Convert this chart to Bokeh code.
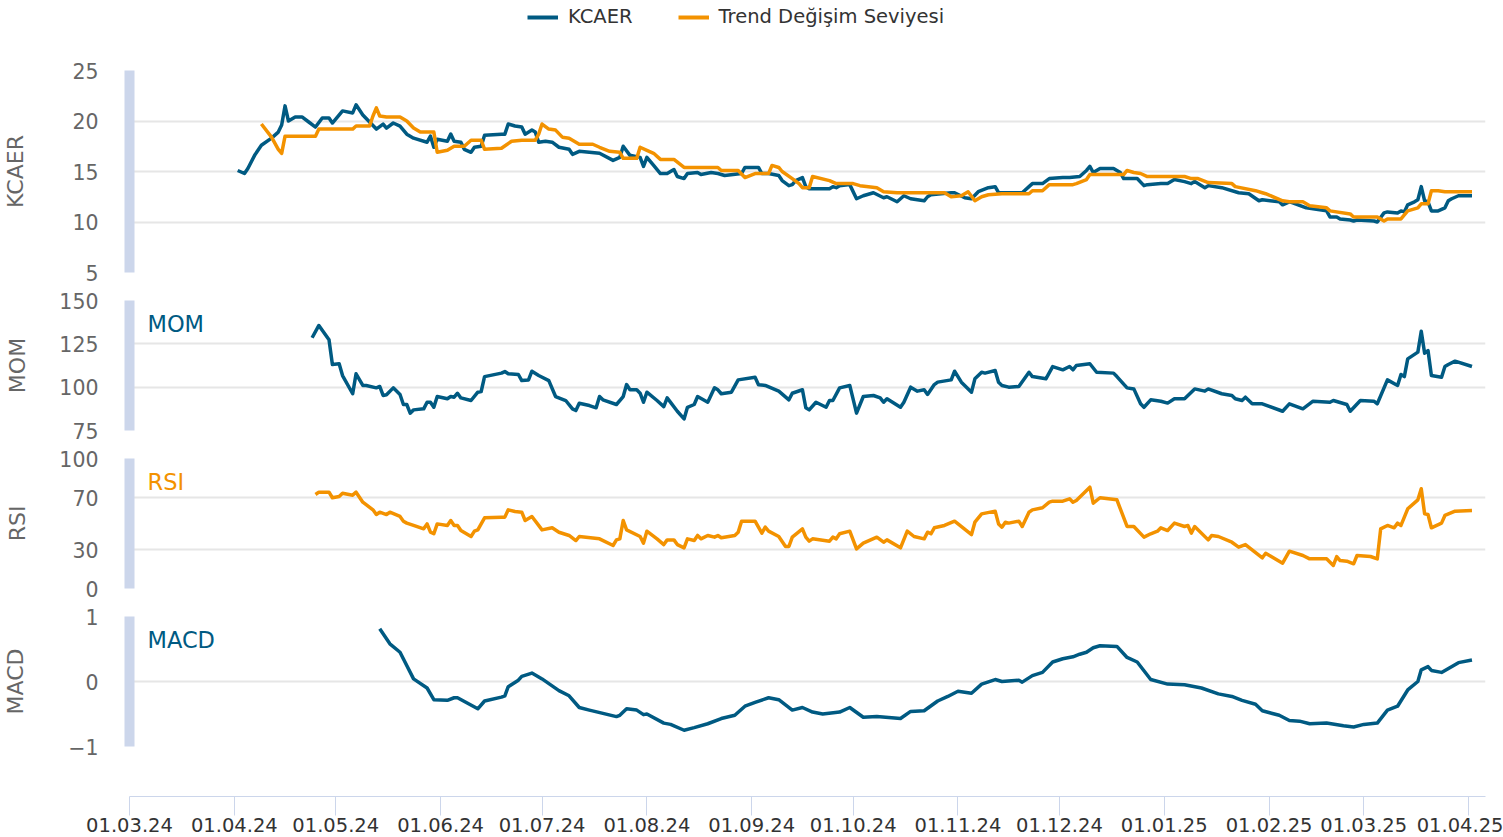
import pandas as pd
from bokeh.plotting import figure
from bokeh.layouts import column
from bokeh.models import (Range1d, FixedTicker, DatetimeTickFormatter, Legend,
                          LegendItem, Label)
from bokeh.embed import file_html
from bokeh.resources import INLINE

# ---------------- data ----------------
kcaer_dates = [
    "2024-04-02", "2024-04-04", "2024-04-05", "2024-04-07", "2024-04-09", "2024-04-12", "2024-04-14",
    "2024-04-15", "2024-04-16", "2024-04-17", "2024-04-19", "2024-04-21", "2024-04-23", "2024-04-25",
    "2024-04-27", "2024-04-29", "2024-04-30", "2024-05-03", "2024-05-06", "2024-05-07", "2024-05-09",
    "2024-05-11", "2024-05-13", "2024-05-15", "2024-05-16", "2024-05-18", "2024-05-20", "2024-05-22",
    "2024-05-24", "2024-05-28", "2024-05-29", "2024-05-30", "2024-05-31", "2024-06-03", "2024-06-04",
    "2024-06-05", "2024-06-07", "2024-06-08", "2024-06-10", "2024-06-11", "2024-06-13", "2024-06-14",
    "2024-06-19", "2024-06-20", "2024-06-21", "2024-06-23", "2024-06-25", "2024-06-26", "2024-06-28",
    "2024-06-29", "2024-06-30", "2024-07-02", "2024-07-04", "2024-07-06", "2024-07-09", "2024-07-10",
    "2024-07-12", "2024-07-18", "2024-07-22", "2024-07-24", "2024-07-25", "2024-07-27", "2024-07-30",
    "2024-07-31", "2024-08-01", "2024-08-03", "2024-08-05", "2024-08-07", "2024-08-09", "2024-08-10",
    "2024-08-12", "2024-08-13", "2024-08-16", "2024-08-17", "2024-08-20", "2024-08-22", "2024-08-24",
    "2024-08-29", "2024-08-30", "2024-09-03", "2024-09-04", "2024-09-06", "2024-09-09", "2024-09-10",
    "2024-09-12", "2024-09-13", "2024-09-14", "2024-09-16", "2024-09-17", "2024-09-18", "2024-09-21",
    "2024-09-24", "2024-09-25", "2024-09-26", "2024-09-27", "2024-09-30", "2024-10-02", "2024-10-04",
    "2024-10-07", "2024-10-10", "2024-10-11", "2024-10-14", "2024-10-16", "2024-10-18", "2024-10-22",
    "2024-10-23", "2024-10-24", "2024-10-30", "2024-10-31", "2024-11-03", "2024-11-05", "2024-11-07",
    "2024-11-10", "2024-11-12", "2024-11-13", "2024-11-20", "2024-11-22", "2024-11-23", "2024-11-26",
    "2024-11-28", "2024-12-02", "2024-12-04", "2024-12-07", "2024-12-09", "2024-12-10", "2024-12-11",
    "2024-12-13", "2024-12-17", "2024-12-19", "2024-12-20", "2024-12-24", "2024-12-26", "2024-12-27",
    "2024-12-31", "2025-01-02", "2025-01-04", "2025-01-07", "2025-01-09", "2025-01-10", "2025-01-13",
    "2025-01-14", "2025-01-18", "2025-01-23", "2025-01-26", "2025-01-29", "2025-01-30", "2025-02-04",
    "2025-02-05", "2025-02-07", "2025-02-08", "2025-02-12", "2025-02-18", "2025-02-19", "2025-02-21",
    "2025-02-22", "2025-02-25", "2025-02-26", "2025-02-27", "2025-03-04", "2025-03-05", "2025-03-07",
    "2025-03-08", "2025-03-11", "2025-03-12", "2025-03-13", "2025-03-14", "2025-03-16", "2025-03-17",
    "2025-03-18", "2025-03-19", "2025-03-20", "2025-03-21", "2025-03-23", "2025-03-25", "2025-03-26",
    "2025-03-27", "2025-03-29", "2025-04-02",
]
kcaer_values = [
    15.1, 14.8, 15.3, 16.6, 17.6, 18.3, 18.9,
    19.6, 21.5, 20.0, 20.4, 20.4, 19.9, 19.4,
    20.3, 20.3, 19.8, 21.0, 20.8, 21.6, 20.6,
    19.9, 19.2, 19.7, 19.3, 19.8, 19.5, 18.7,
    18.3, 17.9, 18.5, 17.4, 18.2, 18.0, 18.7,
    18.0, 17.9, 17.2, 16.9, 17.4, 17.5, 18.6,
    18.7, 18.7, 19.7, 19.5, 19.4, 18.7, 19.1,
    18.9, 17.9, 18.0, 17.9, 17.4, 17.2, 16.7,
    17.0, 16.8, 16.1, 16.4, 17.5, 16.6, 16.4,
    15.5, 16.4, 15.6, 14.8, 14.8, 15.2, 14.5,
    14.3, 14.8, 14.9, 14.7, 14.9, 14.8, 14.6,
    14.8, 15.4, 15.4, 14.8, 14.8, 14.6, 14.1,
    13.6, 13.7, 14.1, 14.4, 13.5, 13.3, 13.3,
    13.3, 13.5, 13.4, 13.6, 13.7, 12.3, 12.6,
    12.9, 12.4, 12.5, 12.0, 12.6, 12.3, 12.1,
    12.5, 12.7, 12.9, 12.9, 12.4, 12.3, 13.0,
    13.4, 13.5, 12.9, 12.9, 13.5, 13.8, 13.8,
    14.3, 14.4, 14.4, 14.5, 15.1, 15.5, 14.9,
    15.3, 15.3, 14.9, 14.3, 14.3, 13.6, 13.7,
    13.8, 13.8, 14.2, 14.0, 13.8, 14.0, 13.4,
    13.6, 13.4, 12.9, 12.8, 12.1, 12.2, 12.0,
    11.7, 12.0, 11.9, 11.4, 11.1, 10.5, 10.5,
    10.3, 10.2, 10.1, 10.2, 10.1, 10.0, 10.9,
    11.0, 10.9, 11.1, 11.0, 11.7, 12.0, 12.2,
    13.5, 12.1, 12.0, 11.1, 11.1, 11.4, 12.1,
    12.3, 12.6, 12.6,
]

trend_dates = [
    "2024-04-09", "2024-04-12", "2024-04-14", "2024-04-15", "2024-04-16", "2024-04-25", "2024-04-26",
    "2024-05-06", "2024-05-07", "2024-05-11", "2024-05-12", "2024-05-13", "2024-05-14", "2024-05-16",
    "2024-05-20", "2024-05-22", "2024-05-24", "2024-05-26", "2024-05-30", "2024-05-31", "2024-06-03",
    "2024-06-05", "2024-06-08", "2024-06-10", "2024-06-13", "2024-06-14", "2024-06-19", "2024-06-22",
    "2024-06-25", "2024-06-29", "2024-06-30", "2024-07-01", "2024-07-03", "2024-07-05", "2024-07-07",
    "2024-07-09", "2024-07-12", "2024-07-16", "2024-07-18", "2024-07-21", "2024-07-24", "2024-07-25",
    "2024-07-29", "2024-07-30", "2024-08-01", "2024-08-03", "2024-08-05", "2024-08-09", "2024-08-12",
    "2024-08-22", "2024-08-23", "2024-08-28", "2024-08-30", "2024-09-02", "2024-09-06", "2024-09-07",
    "2024-09-09", "2024-09-10", "2024-09-13", "2024-09-15", "2024-09-16", "2024-09-18", "2024-09-19",
    "2024-09-24", "2024-09-26", "2024-10-01", "2024-10-03", "2024-10-08", "2024-10-10", "2024-10-14",
    "2024-10-28", "2024-10-30", "2024-11-02", "2024-11-04", "2024-11-06", "2024-11-08", "2024-11-10",
    "2024-11-14", "2024-11-22", "2024-11-23", "2024-11-26", "2024-11-28", "2024-12-05", "2024-12-06",
    "2024-12-09", "2024-12-10", "2024-12-20", "2024-12-21", "2024-12-23", "2024-12-25", "2024-12-27",
    "2025-01-07", "2025-01-09", "2025-01-11", "2025-01-14", "2025-01-21", "2025-01-22", "2025-01-28",
    "2025-01-30", "2025-01-31", "2025-02-05", "2025-02-07", "2025-02-11", "2025-02-13", "2025-02-18",
    "2025-02-19", "2025-02-25", "2025-02-26", "2025-03-05", "2025-03-07", "2025-03-08", "2025-03-12",
    "2025-03-14", "2025-03-17", "2025-03-18", "2025-03-20", "2025-03-21", "2025-03-23", "2025-03-25",
    "2025-04-02",
]
trend_values = [
    19.7, 18.4, 17.2, 16.8, 18.5, 18.5, 19.2,
    19.2, 19.5, 19.5, 20.5, 21.3, 20.5, 20.4,
    20.4, 20.0, 19.3, 18.9, 18.9, 16.9, 17.1,
    17.5, 17.5, 18.1, 18.1, 17.2, 17.3, 18.0,
    18.1, 18.1, 18.7, 19.7, 19.2, 19.1, 18.4,
    18.3, 17.7, 17.7, 17.4, 17.0, 16.9, 16.3,
    16.3, 17.4, 17.1, 16.8, 16.2, 16.2, 15.4,
    15.4, 15.1, 15.1, 14.4, 14.8, 14.8, 15.6,
    15.4, 15.0, 14.3, 13.8, 13.4, 13.4, 14.5,
    14.1, 13.8, 13.8, 13.6, 13.4, 13.0, 12.9,
    12.9, 12.5, 12.6, 13.0, 12.1, 12.5, 12.7,
    12.8, 12.8, 13.1, 13.1, 13.7, 13.7, 13.8,
    14.2, 14.7, 14.7, 15.1, 14.9, 14.8, 14.5,
    14.5, 14.3, 14.3, 13.9, 13.8, 13.5, 13.1,
    12.9, 12.8, 12.1, 12.0, 12.0, 11.6, 11.4,
    11.1, 10.8, 10.5, 10.5, 10.1, 10.3, 10.3,
    11.1, 11.4, 11.8, 11.8, 13.1, 13.1, 13.0,
    13.0,
]

mom_dates = [
    "2024-04-24", "2024-04-26", "2024-04-29", "2024-04-30", "2024-05-02", "2024-05-03", "2024-05-06",
    "2024-05-07", "2024-05-09", "2024-05-10", "2024-05-13", "2024-05-14", "2024-05-15", "2024-05-16",
    "2024-05-18", "2024-05-20", "2024-05-21", "2024-05-22", "2024-05-23", "2024-05-24", "2024-05-27",
    "2024-05-28", "2024-05-29", "2024-05-30", "2024-05-31", "2024-06-03", "2024-06-04", "2024-06-05",
    "2024-06-06", "2024-06-07", "2024-06-10", "2024-06-12", "2024-06-13", "2024-06-14", "2024-06-19",
    "2024-06-20", "2024-06-21", "2024-06-24", "2024-06-25", "2024-06-27", "2024-06-28", "2024-06-30",
    "2024-07-03", "2024-07-05", "2024-07-08", "2024-07-10", "2024-07-11", "2024-07-12", "2024-07-15",
    "2024-07-17", "2024-07-18", "2024-07-19", "2024-07-23", "2024-07-25", "2024-07-26", "2024-07-27",
    "2024-07-29", "2024-07-30", "2024-07-31", "2024-08-01", "2024-08-04", "2024-08-06", "2024-08-07",
    "2024-08-10", "2024-08-12", "2024-08-13", "2024-08-15", "2024-08-16", "2024-08-19", "2024-08-21",
    "2024-08-22", "2024-08-23", "2024-08-26", "2024-08-28", "2024-09-02", "2024-09-03", "2024-09-05",
    "2024-09-09", "2024-09-12", "2024-09-13", "2024-09-16", "2024-09-17", "2024-09-18", "2024-09-20",
    "2024-09-23", "2024-09-24", "2024-09-25", "2024-09-27", "2024-09-30", "2024-10-02", "2024-10-04",
    "2024-10-07", "2024-10-09", "2024-10-10", "2024-10-11", "2024-10-15", "2024-10-16", "2024-10-18",
    "2024-10-20", "2024-10-22", "2024-10-23", "2024-10-25", "2024-10-26", "2024-10-30", "2024-10-31",
    "2024-11-02", "2024-11-05", "2024-11-06", "2024-11-08", "2024-11-09", "2024-11-12", "2024-11-13",
    "2024-11-14", "2024-11-16", "2024-11-19", "2024-11-22", "2024-11-23", "2024-11-27", "2024-11-29",
    "2024-12-02", "2024-12-04", "2024-12-05", "2024-12-06", "2024-12-10", "2024-12-12", "2024-12-17",
    "2024-12-18", "2024-12-21", "2024-12-23", "2024-12-25", "2024-12-26", "2024-12-28", "2024-12-31",
    "2025-01-02", "2025-01-04", "2025-01-07", "2025-01-10", "2025-01-13", "2025-01-14", "2025-01-18",
    "2025-01-21", "2025-01-22", "2025-01-24", "2025-01-25", "2025-01-27", "2025-01-30", "2025-02-05",
    "2025-02-07", "2025-02-11", "2025-02-14", "2025-02-19", "2025-02-20", "2025-02-24", "2025-02-25",
    "2025-02-28", "2025-03-04", "2025-03-05", "2025-03-08", "2025-03-11", "2025-03-12", "2025-03-13",
    "2025-03-14", "2025-03-17", "2025-03-18", "2025-03-19", "2025-03-20", "2025-03-21", "2025-03-24",
    "2025-03-25", "2025-03-26", "2025-03-28", "2025-04-02",
]
mom_values = [
    128.5, 135.6, 127.3, 113.1, 113.5, 106.7, 96.2,
    107.7, 101.0, 101.0, 99.6, 100.4, 95.2, 95.6,
    99.6, 95.8, 90.0, 90.0, 85.0, 86.9, 87.5,
    91.3, 91.3, 88.4, 94.6, 93.3, 94.6, 94.2,
    96.5, 93.8, 92.3, 97.1, 97.5, 106.1, 108.1,
    109.0, 107.7, 107.3, 103.8, 104.2, 109.2, 106.7,
    103.8, 94.6, 92.3, 87.5, 86.5, 90.7, 89.4,
    88.1, 94.6, 92.7, 90.0, 94.6, 101.5, 98.5,
    98.5, 96.5, 91.3, 97.1, 92.3, 88.8, 93.8,
    86.1, 81.7, 88.4, 90.0, 94.6, 91.3, 99.6,
    98.5, 96.2, 97.1, 104.2, 105.7, 101.4, 101.0,
    97.7, 92.7, 96.5, 98.5, 88.1, 86.9, 91.3,
    88.4, 92.3, 92.3, 99.6, 101.0, 85.0, 94.6,
    95.2, 93.8, 91.3, 93.3, 88.4, 91.3, 100.0,
    97.7, 98.5, 95.8, 101.5, 102.9, 104.2, 109.2,
    102.9, 97.1, 104.8, 108.6, 108.1, 109.6, 102.9,
    101.0, 100.0, 100.4, 108.6, 106.1, 104.8, 111.9,
    110.0, 111.9, 110.0, 112.5, 113.5, 108.6, 108.1,
    106.1, 99.6, 99.0, 90.4, 88.4, 92.7, 91.9,
    90.8, 93.3, 93.3, 99.0, 97.7, 99.0, 96.2,
    95.2, 93.3, 92.3, 94.2, 90.4, 90.4, 86.1,
    90.4, 87.5, 91.9, 91.3, 92.3, 90.0, 86.1,
    92.3, 91.9, 90.4, 104.2, 101.0, 107.3, 106.1,
    116.3, 120.2, 132.3, 119.6, 121.1, 106.7, 105.7,
    111.9, 113.1, 115.0, 111.9,
]

rsi_dates = [
    "2024-04-25", "2024-04-26", "2024-04-29", "2024-04-30", "2024-05-02", "2024-05-03", "2024-05-06",
    "2024-05-07", "2024-05-09", "2024-05-12", "2024-05-13", "2024-05-14", "2024-05-16", "2024-05-17",
    "2024-05-20", "2024-05-21", "2024-05-22", "2024-05-24", "2024-05-27", "2024-05-28", "2024-05-29",
    "2024-05-30", "2024-05-31", "2024-06-03", "2024-06-04", "2024-06-05", "2024-06-06", "2024-06-07",
    "2024-06-10", "2024-06-11", "2024-06-12", "2024-06-14", "2024-06-19", "2024-06-20", "2024-06-21",
    "2024-06-23", "2024-06-25", "2024-06-26", "2024-06-28", "2024-07-01", "2024-07-04", "2024-07-06",
    "2024-07-09", "2024-07-11", "2024-07-12", "2024-07-18", "2024-07-22", "2024-07-23", "2024-07-24",
    "2024-07-25", "2024-07-26", "2024-07-30", "2024-07-31", "2024-08-01", "2024-08-04", "2024-08-06",
    "2024-08-07", "2024-08-09", "2024-08-10", "2024-08-12", "2024-08-13", "2024-08-15", "2024-08-16",
    "2024-08-17", "2024-08-19", "2024-08-21", "2024-08-22", "2024-08-23", "2024-08-27", "2024-08-28",
    "2024-08-29", "2024-09-02", "2024-09-04", "2024-09-05", "2024-09-06", "2024-09-09", "2024-09-11",
    "2024-09-12", "2024-09-13", "2024-09-16", "2024-09-17", "2024-09-18", "2024-09-19", "2024-09-24",
    "2024-09-25", "2024-09-26", "2024-09-27", "2024-09-30", "2024-10-02", "2024-10-04", "2024-10-08",
    "2024-10-10", "2024-10-11", "2024-10-15", "2024-10-17", "2024-10-19", "2024-10-22", "2024-10-23",
    "2024-10-24", "2024-10-25", "2024-10-28", "2024-10-31", "2024-11-05", "2024-11-06", "2024-11-08",
    "2024-11-12", "2024-11-13", "2024-11-14", "2024-11-15", "2024-11-16", "2024-11-19", "2024-11-20",
    "2024-11-22", "2024-11-23", "2024-11-26", "2024-11-28", "2024-11-29", "2024-12-02", "2024-12-04",
    "2024-12-05", "2024-12-06", "2024-12-10", "2024-12-11", "2024-12-13", "2024-12-18", "2024-12-21",
    "2024-12-23", "2024-12-26", "2024-12-28", "2024-12-30", "2024-12-31", "2025-01-02", "2025-01-04",
    "2025-01-07", "2025-01-08", "2025-01-09", "2025-01-10", "2025-01-14", "2025-01-15", "2025-01-17",
    "2025-01-21", "2025-01-23", "2025-01-25", "2025-01-30", "2025-01-31", "2025-02-02", "2025-02-05",
    "2025-02-07", "2025-02-11", "2025-02-13", "2025-02-18", "2025-02-20", "2025-02-21", "2025-02-22",
    "2025-02-24", "2025-02-26", "2025-02-27", "2025-03-03", "2025-03-05", "2025-03-06", "2025-03-08",
    "2025-03-10", "2025-03-11", "2025-03-12", "2025-03-14", "2025-03-17", "2025-03-18", "2025-03-19",
    "2025-03-20", "2025-03-21", "2025-03-24", "2025-03-25", "2025-03-28", "2025-04-02",
]
rsi_values = [
    72.3, 74.1, 74.1, 69.8, 70.8, 73.3, 71.8,
    74.1, 66.4, 60.5, 56.9, 58.7, 56.9, 58.7,
    55.4, 51.8, 50.3, 48.5, 45.9, 49.7, 43.3,
    42.1, 49.7, 48.5, 52.3, 48.5, 48.5, 44.6,
    40.0, 44.1, 45.1, 54.4, 54.9, 54.9, 60.5,
    59.2, 58.7, 52.3, 55.4, 45.1, 46.7, 43.3,
    40.8, 36.9, 40.0, 38.2, 33.1, 37.4, 38.2,
    52.3, 45.1, 40.0, 34.9, 44.1, 38.2, 33.8,
    37.4, 37.4, 33.8, 31.3, 38.2, 36.9, 40.8,
    38.2, 40.8, 39.5, 40.8, 39.0, 40.8, 43.3,
    51.8, 51.8, 42.6, 47.2, 44.1, 40.0, 32.3,
    32.3, 39.5, 45.9, 39.5, 36.4, 38.2, 36.4,
    39.5, 38.2, 42.1, 44.1, 30.5, 34.9, 39.5,
    35.6, 37.4, 31.3, 44.1, 40.0, 38.2, 43.3,
    42.1, 46.7, 48.5, 51.8, 41.5, 51.0, 57.4,
    59.5, 49.7, 47.2, 51.0, 50.3, 51.8, 47.7,
    58.7, 60.5, 62.1, 66.4, 67.2, 67.2, 69.0,
    66.4, 67.7, 77.9, 65.6, 69.8, 68.2, 47.7,
    47.7, 39.5, 42.1, 44.1, 46.7, 44.6, 50.3,
    47.7, 48.5, 42.6, 47.7, 37.4, 40.8, 40.0,
    35.6, 31.8, 33.8, 23.6, 27.1, 24.1, 19.5,
    28.7, 25.4, 22.8, 22.8, 17.7, 24.6, 21.5,
    21.0, 19.0, 25.4, 24.6, 22.8, 45.9, 48.5,
    46.7, 50.3, 48.5, 61.3, 68.2, 76.7, 57.4,
    56.9, 46.7, 50.3, 56.2, 59.5, 60.0,
]

macd_dates = [
    "2024-05-14", "2024-05-17", "2024-05-20", "2024-05-24", "2024-05-28", "2024-05-30", "2024-06-03",
    "2024-06-05", "2024-06-06", "2024-06-12", "2024-06-14", "2024-06-19", "2024-06-20", "2024-06-21",
    "2024-06-24", "2024-06-25", "2024-06-28", "2024-07-01", "2024-07-06", "2024-07-09", "2024-07-12",
    "2024-07-15", "2024-07-23", "2024-07-24", "2024-07-26", "2024-07-29", "2024-07-31", "2024-08-01",
    "2024-08-06", "2024-08-08", "2024-08-12", "2024-08-15", "2024-08-19", "2024-08-23", "2024-08-27",
    "2024-08-30", "2024-09-02", "2024-09-06", "2024-09-09", "2024-09-13", "2024-09-16", "2024-09-19",
    "2024-09-22", "2024-09-27", "2024-09-30", "2024-10-04", "2024-10-08", "2024-10-15", "2024-10-18",
    "2024-10-22", "2024-10-26", "2024-10-29", "2024-11-01", "2024-11-05", "2024-11-08", "2024-11-12",
    "2024-11-14", "2024-11-19", "2024-11-20", "2024-11-23", "2024-11-26", "2024-11-29", "2024-12-02",
    "2024-12-05", "2024-12-07", "2024-12-09", "2024-12-11", "2024-12-13", "2024-12-18", "2024-12-21",
    "2024-12-24", "2024-12-28", "2025-01-02", "2025-01-07", "2025-01-12", "2025-01-17", "2025-01-21",
    "2025-01-24", "2025-01-28", "2025-01-30", "2025-02-04", "2025-02-07", "2025-02-10", "2025-02-13",
    "2025-02-18", "2025-02-23", "2025-02-26", "2025-03-01", "2025-03-05", "2025-03-08", "2025-03-11",
    "2025-03-14", "2025-03-17", "2025-03-18", "2025-03-20", "2025-03-21", "2025-03-24", "2025-03-29",
    "2025-04-02",
]
macd_values = [
    0.81, 0.58, 0.45, 0.04, -0.10, -0.28, -0.29,
    -0.25, -0.25, -0.42, -0.30, -0.24, -0.22, -0.08,
    0.02, 0.08, 0.13, 0.04, -0.14, -0.22, -0.40,
    -0.44, -0.54, -0.52, -0.42, -0.44, -0.51, -0.50,
    -0.64, -0.66, -0.75, -0.71, -0.65, -0.57, -0.52,
    -0.38, -0.32, -0.25, -0.28, -0.44, -0.40, -0.47,
    -0.50, -0.47, -0.40, -0.55, -0.54, -0.57, -0.46,
    -0.45, -0.30, -0.23, -0.15, -0.18, -0.04, 0.03,
    0.00, 0.02, -0.01, 0.09, 0.14, 0.30, 0.35,
    0.38, 0.42, 0.45, 0.52, 0.55, 0.54, 0.37,
    0.30, 0.03, -0.04, -0.05, -0.10, -0.19, -0.23,
    -0.29, -0.35, -0.45, -0.52, -0.60, -0.61, -0.65,
    -0.64, -0.68, -0.70, -0.66, -0.64, -0.44, -0.38,
    -0.13, 0.00, 0.18, 0.23, 0.17, 0.14, 0.29,
    0.33,
]

x_tick_dates = pd.date_range("2024-03-01", "2025-04-01", freq="MS")

# ---------------- styling ----------------
BLUE = "#005a82"
ORANGE = "#f39200"
FONT = "DejaVu Sans"
GRID = "#e6e6e6"
AXIS_BAR = "#ccd6eb"
FRAME_W = 1356
LEFT = 129
RIGHT = 18
LW = 3.5

x_range = Range1d(start=pd.Timestamp("2024-03-01"), end=pd.Timestamp("2025-04-06"))


def make_panel(frame_h, yr, ticks, title, title_standoff, top=14, bottom=14):
    p = figure(frame_width=FRAME_W, frame_height=frame_h, x_range=x_range,
               y_range=Range1d(*yr), x_axis_type="datetime", x_axis_location=None,
               toolbar_location=None, output_backend="svg",
               min_border_left=LEFT, min_border_right=RIGHT,
               min_border_top=top, min_border_bottom=bottom)
    p.outline_line_color = None
    p.xgrid.visible = False
    p.ygrid.ticker = FixedTicker(ticks=ticks)
    p.ygrid.grid_line_color = GRID
    p.ygrid.grid_line_width = 2
    ax = p.yaxis[0]
    ax.ticker = FixedTicker(ticks=ticks)
    ax.axis_line_color = AXIS_BAR
    ax.axis_line_width = 10
    ax.major_tick_line_color = None
    ax.minor_tick_line_color = None
    ax.major_label_text_font = FONT
    ax.major_label_text_font_size = "20.5px"
    ax.major_label_text_color = "#666666"
    ax.major_label_standoff = 25
    ax.axis_label = title
    ax.axis_label_text_font = FONT
    ax.axis_label_text_font_size = "22px"
    ax.axis_label_text_font_style = "normal"
    ax.axis_label_text_color = "#666666"
    ax.axis_label_standoff = title_standoff
    return p


def add_tag(p, frame_h, text, color):
    p.add_layout(Label(x=18, y=frame_h - 23, x_units="screen", y_units="screen",
                       text=text, text_color=color, text_font=FONT,
                       text_font_size="22.5px", text_baseline="middle"))


# legend strip (its two renderers carry no visible points; they only feed the legend)
NAN = float("nan")
lg = figure(frame_width=LEFT + FRAME_W + RIGHT, frame_height=60,
            x_range=Range1d(0, 1), y_range=Range1d(0, 1),
            x_axis_location=None, y_axis_location=None,
            toolbar_location=None, output_backend="svg", min_border=0)
lg.outline_line_color = None
lg.xgrid.visible = False
lg.ygrid.visible = False
r_k = lg.line(x=[0, 1], y=[NAN, NAN], line_color=BLUE, line_width=4)
r_t = lg.line(x=[0, 1], y=[NAN, NAN], line_color=ORANGE, line_width=4)
legend = Legend(items=[LegendItem(label="KCAER", renderers=[r_k]),
                       LegendItem(label="Trend Değişim Seviyesi", renderers=[r_t])],
                orientation="horizontal", location=(527, 32),
                glyph_width=31, glyph_height=20, label_standoff=10, spacing=45,
                padding=0, margin=0, border_line_color=None, background_fill_alpha=0,
                label_text_font=FONT, label_text_font_size="19.5px",
                label_text_color="#333333")
lg.add_layout(legend, "center")

# KCAER panel
p1 = make_panel(202, (5, 25), [5, 10, 15, 20, 25], "KCAER", 41, top=10)
p1.line(pd.to_datetime(kcaer_dates), kcaer_values, line_color=BLUE, line_width=LW,
        line_join="round")
p1.line(pd.to_datetime(trend_dates), trend_values, line_color=ORANGE, line_width=LW,
        line_join="round")

# MOM panel
p2 = make_panel(130, (75, 150), [75, 100, 125, 150], "MOM", 26)
p2.line(pd.to_datetime(mom_dates), mom_values, line_color=BLUE, line_width=LW,
        line_join="round")
add_tag(p2, 130, "MOM", BLUE)

# RSI panel
p3 = make_panel(130, (0, 100), [0, 30, 70, 100], "RSI", 26)
p3.line(pd.to_datetime(rsi_dates), rsi_values, line_color=ORANGE, line_width=LW,
        line_join="round")
add_tag(p3, 130, "RSI", ORANGE)

# MACD panel
p4 = make_panel(130, (-1, 1), [-1, 0, 1], "MACD", 37, bottom=14)
p4.yaxis[0].major_label_overrides = {-1: "\u22121"}
p4.line(pd.to_datetime(macd_dates), macd_values, line_color=BLUE, line_width=LW,
        line_join="round")
add_tag(p4, 130, "MACD", BLUE)

# shared date axis strip below the panels
p5 = figure(frame_width=FRAME_W, frame_height=36, x_range=x_range,
            y_range=Range1d(0, 1), x_axis_type="datetime", y_axis_location=None,
            toolbar_location=None, output_backend="svg",
            min_border_left=LEFT, min_border_right=RIGHT,
            min_border_top=0, min_border_bottom=41)
p5.outline_line_color = None
p5.xgrid.visible = False
p5.ygrid.visible = False
xa = p5.xaxis[0]
xa.ticker = FixedTicker(ticks=[float(t.value // 10**6) for t in x_tick_dates])
fmt = "%d.%m.%y"
xa.formatter = DatetimeTickFormatter(days=fmt, months=fmt, years=fmt, hours=fmt,
                                     hourmin=fmt, minutes=fmt, minsec=fmt, seconds=fmt,
                                     milliseconds=fmt, microseconds=fmt)
xa.axis_line_color = AXIS_BAR
xa.major_tick_line_color = AXIS_BAR
xa.major_tick_out = 19
xa.major_tick_in = 0
xa.minor_tick_line_color = None
xa.major_label_text_font = FONT
xa.major_label_text_font_size = "19.5px"
xa.major_label_text_color = "#333333"
xa.major_label_standoff = 2

layout = column(lg, p1, p2, p3, p4, p5, spacing=0)

with open("out.html", "w") as f:
    f.write(file_html(layout, INLINE))
